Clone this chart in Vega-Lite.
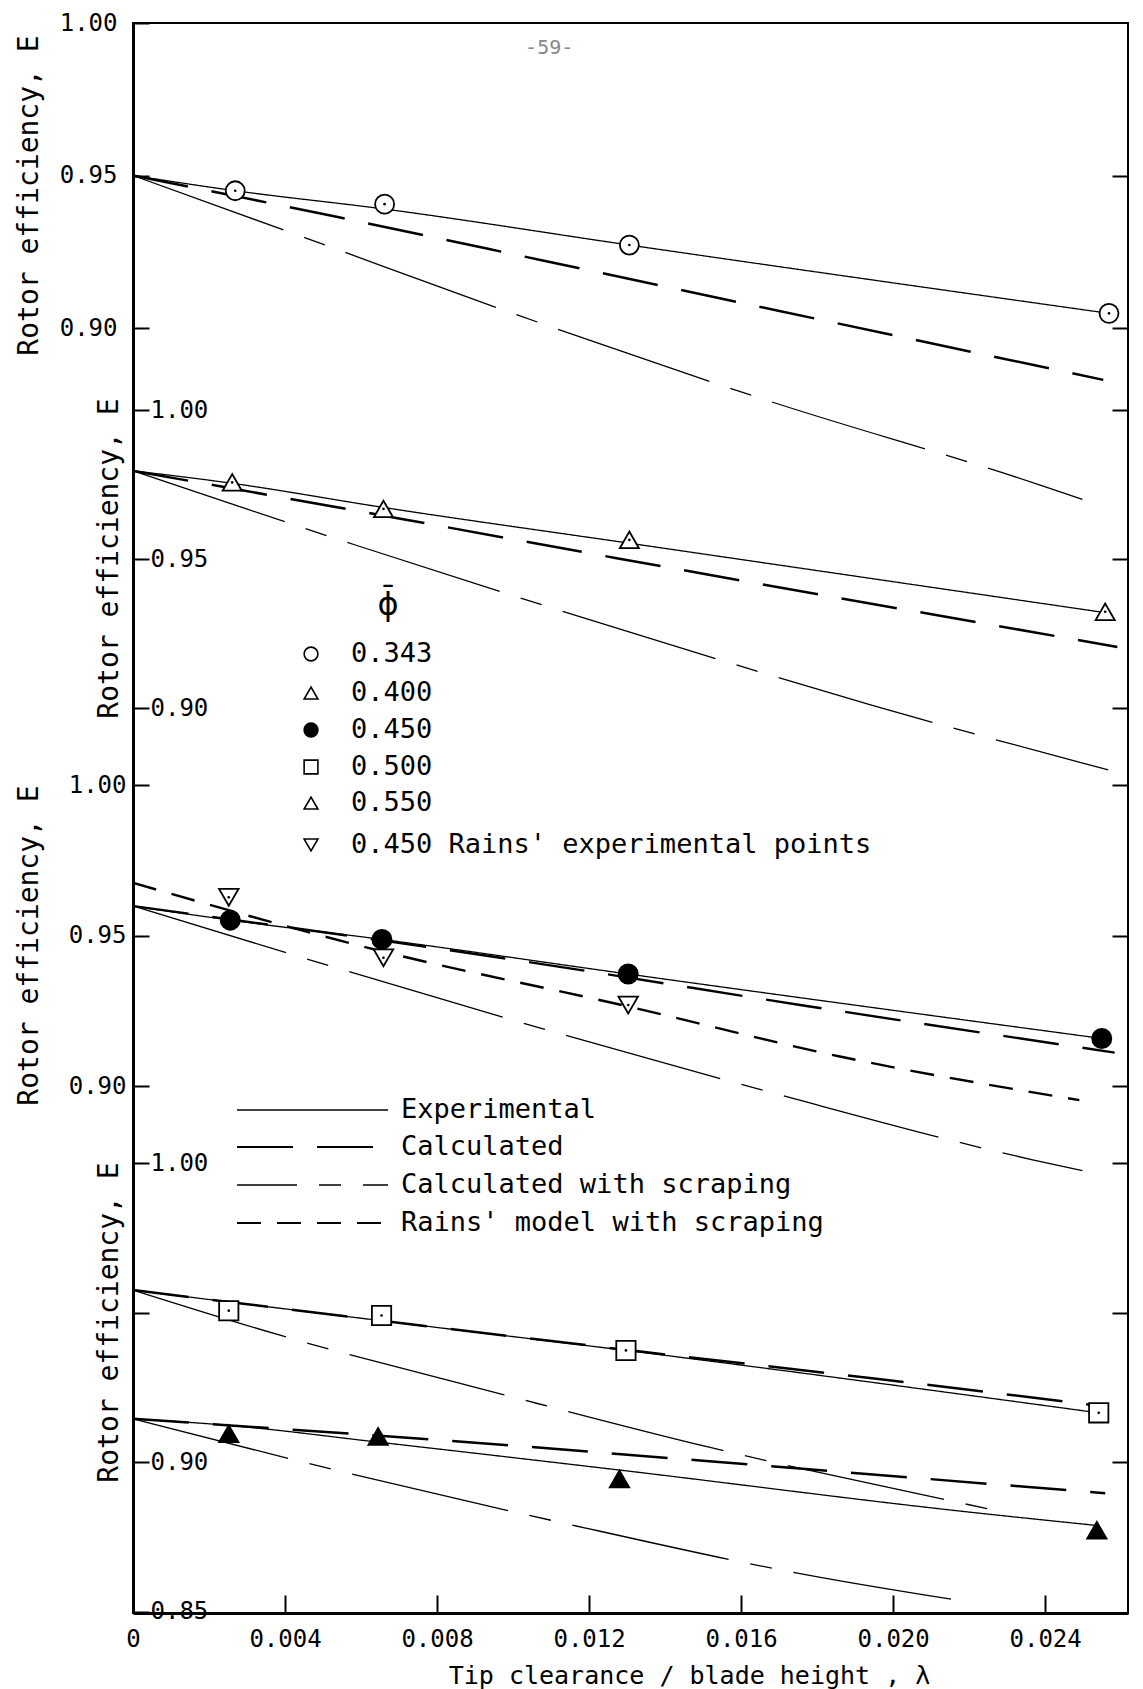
{
  "$schema": "https://vega.github.io/schema/vega-lite/v6.json",
  "width": 995,
  "height": 1590,
  "autosize": {"type": "none"},
  "padding": {"left": 133, "top": 23, "right": 15, "bottom": 76},
  "background": "white",
  "config": {
    "view": {"stroke": "black", "strokeWidth": 2},
    "font": "DejaVu Sans Mono",
    "axis": {"labelFont": "DejaVu Sans Mono", "titleFont": "DejaVu Sans Mono", "labelColor": "black", "titleColor": "black", "tickColor": "black", "domainColor": "black", "grid": false, "titleFontWeight": "normal", "labelFontSize": 24, "titleFontSize": 28, "tickWidth": 2, "labelOverlap": false, "labelFlush": false}
  },
  "datasets": {
    "lines": [
      {"panel": 1, "series": "0.343", "style": "Experimental", "x": 0, "E": 0.95},
      {"panel": 1, "series": "0.343", "style": "Experimental", "x": 0.00269, "E": 0.945},
      {"panel": 1, "series": "0.343", "style": "Experimental", "x": 0.00662, "E": 0.939},
      {"panel": 1, "series": "0.343", "style": "Experimental", "x": 0.01306, "E": 0.9272},
      {"panel": 1, "series": "0.343", "style": "Experimental", "x": 0.02568, "E": 0.9048},
      {"panel": 1, "series": "0.343", "style": "Calculated", "x": 0, "E": 0.95},
      {"panel": 1, "series": "0.343", "style": "Calculated", "x": 0.00526, "E": 0.9367},
      {"panel": 1, "series": "0.343", "style": "Calculated", "x": 0.01072, "E": 0.9223},
      {"panel": 1, "series": "0.343", "style": "Calculated", "x": 0.01704, "E": 0.9055},
      {"panel": 1, "series": "0.343", "style": "Calculated", "x": 0.02553, "E": 0.883},
      {"panel": 1, "series": "0.343", "style": "Calculated with scraping", "x": 0, "E": 0.95},
      {"panel": 1, "series": "0.343", "style": "Calculated with scraping", "x": 0.00457, "E": 0.9294},
      {"panel": 1, "series": "0.343", "style": "Calculated with scraping", "x": 0.01004, "E": 0.9046},
      {"panel": 1, "series": "0.343", "style": "Calculated with scraping", "x": 0.0167, "E": 0.8762},
      {"panel": 1, "series": "0.343", "style": "Calculated with scraping", "x": 0.02387, "E": 0.8485},
      {"panel": 1, "series": "0.343", "style": "Calculated with scraping", "x": 0.02498, "E": 0.8438},

      {"panel": 2, "series": "0.400", "style": "Experimental", "x": 0, "E": 0.9796},
      {"panel": 2, "series": "0.400", "style": "Experimental", "x": 0.00261, "E": 0.9754},
      {"panel": 2, "series": "0.400", "style": "Experimental", "x": 0.00659, "E": 0.9673},
      {"panel": 2, "series": "0.400", "style": "Experimental", "x": 0.01306, "E": 0.9553},
      {"panel": 2, "series": "0.400", "style": "Experimental", "x": 0.02558, "E": 0.932},
      {"panel": 2, "series": "0.400", "style": "Calculated", "x": 0, "E": 0.9796},
      {"panel": 2, "series": "0.400", "style": "Calculated", "x": 0.00696, "E": 0.9637},
      {"panel": 2, "series": "0.400", "style": "Calculated", "x": 0.01276, "E": 0.9502},
      {"panel": 2, "series": "0.400", "style": "Calculated", "x": 0.0259, "E": 0.9205},
      {"panel": 2, "series": "0.400", "style": "Calculated with scraping", "x": 0, "E": 0.9796},
      {"panel": 2, "series": "0.400", "style": "Calculated with scraping", "x": 0.00585, "E": 0.9547},
      {"panel": 2, "series": "0.400", "style": "Calculated with scraping", "x": 0.01303, "E": 0.9256},
      {"panel": 2, "series": "0.400", "style": "Calculated with scraping", "x": 0.01943, "E": 0.901},
      {"panel": 2, "series": "0.400", "style": "Calculated with scraping", "x": 0.02566, "E": 0.8792},

      {"panel": 3, "series": "0.450", "style": "Experimental", "x": 0, "E": 0.9598},
      {"panel": 3, "series": "0.450", "style": "Experimental", "x": 0.00256, "E": 0.9551},
      {"panel": 3, "series": "0.450", "style": "Experimental", "x": 0.00655, "E": 0.9487},
      {"panel": 3, "series": "0.450", "style": "Experimental", "x": 0.01303, "E": 0.9372},
      {"panel": 3, "series": "0.450", "style": "Experimental", "x": 0.02549, "E": 0.9158},
      {"panel": 3, "series": "0.450", "style": "Calculated", "x": 0, "E": 0.9598},
      {"panel": 3, "series": "0.450", "style": "Calculated", "x": 0.01004, "E": 0.9419},
      {"panel": 3, "series": "0.450", "style": "Calculated", "x": 0.01772, "E": 0.9266},
      {"panel": 3, "series": "0.450", "style": "Calculated", "x": 0.02583, "E": 0.9111},
      {"panel": 3, "series": "0.450", "style": "Rains' model with scraping", "x": 0, "E": 0.9675},
      {"panel": 3, "series": "0.450", "style": "Rains' model with scraping", "x": 0.0066, "E": 0.9446},
      {"panel": 3, "series": "0.450", "style": "Rains' model with scraping", "x": 0.013, "E": 0.9265},
      {"panel": 3, "series": "0.450", "style": "Rains' model with scraping", "x": 0.0186, "E": 0.9098},
      {"panel": 3, "series": "0.450", "style": "Rains' model with scraping", "x": 0.0249, "E": 0.8953},
      {"panel": 3, "series": "0.450", "style": "Calculated with scraping", "x": 0, "E": 0.9598},
      {"panel": 3, "series": "0.450", "style": "Calculated with scraping", "x": 0.00526, "E": 0.9396},
      {"panel": 3, "series": "0.450", "style": "Calculated with scraping", "x": 0.01106, "E": 0.918},
      {"panel": 3, "series": "0.450", "style": "Calculated with scraping", "x": 0.01704, "E": 0.897},
      {"panel": 3, "series": "0.450", "style": "Calculated with scraping", "x": 0.0237, "E": 0.8754},
      {"panel": 3, "series": "0.450", "style": "Calculated with scraping", "x": 0.02498, "E": 0.8719},

      {"panel": 4, "series": "0.500", "style": "Experimental", "x": 0, "E": 0.9576},
      {"panel": 4, "series": "0.500", "style": "Experimental", "x": 0.0065, "E": 0.9474},
      {"panel": 4, "series": "0.500", "style": "Experimental", "x": 0.01297, "E": 0.9374},
      {"panel": 4, "series": "0.500", "style": "Experimental", "x": 0.02541, "E": 0.9165},
      {"panel": 4, "series": "0.500", "style": "Calculated", "x": 0, "E": 0.9576},
      {"panel": 4, "series": "0.500", "style": "Calculated", "x": 0.0065, "E": 0.9474},
      {"panel": 4, "series": "0.500", "style": "Calculated", "x": 0.01297, "E": 0.9376},
      {"panel": 4, "series": "0.500", "style": "Calculated", "x": 0.0195, "E": 0.928},
      {"panel": 4, "series": "0.500", "style": "Calculated", "x": 0.0256, "E": 0.9186},
      {"panel": 4, "series": "0.500", "style": "Calculated with scraping", "x": 0, "E": 0.9576},
      {"panel": 4, "series": "0.500", "style": "Calculated with scraping", "x": 0.00389, "E": 0.9424},
      {"panel": 4, "series": "0.500", "style": "Calculated with scraping", "x": 0.00969, "E": 0.9228},
      {"panel": 4, "series": "0.500", "style": "Calculated with scraping", "x": 0.01516, "E": 0.905},
      {"panel": 4, "series": "0.500", "style": "Calculated with scraping", "x": 0.0225, "E": 0.8844},
      {"panel": 4, "series": "0.550", "style": "Experimental", "x": 0, "E": 0.9145},
      {"panel": 4, "series": "0.550", "style": "Experimental", "x": 0.00252, "E": 0.9123},
      {"panel": 4, "series": "0.550", "style": "Experimental", "x": 0.00645, "E": 0.9067},
      {"panel": 4, "series": "0.550", "style": "Experimental", "x": 0.01277, "E": 0.8974},
      {"panel": 4, "series": "0.550", "style": "Experimental", "x": 0.02199, "E": 0.8833},
      {"panel": 4, "series": "0.550", "style": "Experimental", "x": 0.02536, "E": 0.8788},
      {"panel": 4, "series": "0.550", "style": "Calculated", "x": 0, "E": 0.9145},
      {"panel": 4, "series": "0.550", "style": "Calculated", "x": 0.00961, "E": 0.9059},
      {"panel": 4, "series": "0.550", "style": "Calculated", "x": 0.01729, "E": 0.8981},
      {"panel": 4, "series": "0.550", "style": "Calculated", "x": 0.02558, "E": 0.8896},
      {"panel": 4, "series": "0.550", "style": "Calculated with scraping", "x": 0, "E": 0.9145},
      {"panel": 4, "series": "0.550", "style": "Calculated with scraping", "x": 0.00483, "E": 0.8989},
      {"panel": 4, "series": "0.550", "style": "Calculated with scraping", "x": 0.0114, "E": 0.8794},
      {"panel": 4, "series": "0.550", "style": "Calculated with scraping", "x": 0.0178, "E": 0.8621},
      {"panel": 4, "series": "0.550", "style": "Calculated with scraping", "x": 0.02199, "E": 0.8532}
    ],
    "points": [
      {"panel": 1, "marker": "open circle", "x": 0.00269, "E": 0.945},
      {"panel": 1, "marker": "open circle", "x": 0.00662, "E": 0.9406},
      {"panel": 1, "marker": "open circle", "x": 0.01306, "E": 0.9272},
      {"panel": 1, "marker": "open circle", "x": 0.02568, "E": 0.9048},
      {"panel": 2, "marker": "open triangle", "x": 0.00261, "E": 0.9757},
      {"panel": 2, "marker": "open triangle", "x": 0.00659, "E": 0.9668},
      {"panel": 2, "marker": "open triangle", "x": 0.01306, "E": 0.9564},
      {"panel": 2, "marker": "open triangle", "x": 0.02558, "E": 0.9323},
      {"panel": 3, "marker": "filled circle", "x": 0.00256, "E": 0.9551},
      {"panel": 3, "marker": "filled circle", "x": 0.00655, "E": 0.9487},
      {"panel": 3, "marker": "filled circle", "x": 0.01303, "E": 0.9372},
      {"panel": 3, "marker": "filled circle", "x": 0.02549, "E": 0.9158},
      {"panel": 3, "marker": "open inverted triangle", "x": 0.00252, "E": 0.9627},
      {"panel": 3, "marker": "open inverted triangle", "x": 0.00659, "E": 0.9426},
      {"panel": 3, "marker": "open inverted triangle", "x": 0.01303, "E": 0.9269},
      {"panel": 4, "marker": "open square", "x": 0.00252, "E": 0.9507},
      {"panel": 4, "marker": "open square", "x": 0.00654, "E": 0.9491},
      {"panel": 4, "marker": "open square", "x": 0.01297, "E": 0.9374},
      {"panel": 4, "marker": "open square", "x": 0.02541, "E": 0.9165},
      {"panel": 4, "marker": "filled triangle", "x": 0.00252, "E": 0.9095},
      {"panel": 4, "marker": "filled triangle", "x": 0.00645, "E": 0.9086},
      {"panel": 4, "marker": "filled triangle", "x": 0.0128, "E": 0.8944},
      {"panel": 4, "marker": "filled triangle", "x": 0.02536, "E": 0.8772}
    ],
    "phiLegend": [
      {"marker": "open circle", "label": "0.343", "x": 0.004684, "E": 0.91812},
      {"marker": "open triangle", "label": "0.400", "x": 0.004684, "E": 0.90503},
      {"marker": "filled circle", "label": "0.450", "x": 0.004684, "E": 0.89262},
      {"marker": "open square", "label": "0.500", "x": 0.004684, "E": 0.8802},
      {"marker": "open triangle", "label": "0.550", "x": 0.004684, "E": 0.86812},
      {"marker": "open inverted triangle", "label": "0.450 Rains' experimental points", "x": 0.004684, "E": 0.85403}
    ],
    "styleLegend": [
      {"style": "Experimental", "x": 0.002737, "x2": 0.006711, "E": 0.89203},
      {"style": "Calculated", "x": 0.002737, "x2": 0.006711, "E": 0.87973},
      {"style": "Calculated with scraping", "x": 0.002737, "x2": 0.006711, "E": 0.86711},
      {"style": "Rains' model with scraping", "x": 0.002737, "x2": 0.006711, "E": 0.85449}
    ],
    "notes": [
      {"panel": 1, "label": "-59-", "x": 0.01095, "E": 0.9918},
      {"panel": 2, "label": "\u03d5\u0304", "x": 0.00671, "E": 0.93456}
    ]
  },
  "layer": [
    {
      "layer": [
        {
          "data": {"name": "lines"},
          "transform": [{"filter": "datum.panel == 1 && (datum.style == 'Experimental' || datum.style == 'Calculated with scraping')"}],
          "mark": {"type": "line", "interpolate": "monotone", "color": "black", "strokeWidth": 1.3},
          "encoding": {
            "x": {"field": "x", "type": "quantitative", "scale": {"domain": [0, 0.02618], "nice": false, "zero": false},
              "axis": {"orient": "bottom", "title": "Tip clearance / blade height , \u03bb", "values": [0, 0.004, 0.008, 0.012, 0.016, 0.02, 0.024], "labelExpr": "datum.value == 0 ? '0' : format(datum.value, '.3f')", "tickSize": -18, "tickWidth": 2, "labelPadding": 32, "labelBaseline": "top", "labelFontSize": 24, "domain": true, "domainWidth": 3, "titleFontSize": 25, "titleX": 556, "titleY": 70, "titleBaseline": "alphabetic"}},
            "y": {"field": "E", "type": "quantitative", "scale": {"domain": [0.47869, 1.0], "nice": false, "zero": false},
              "axis": {"orient": "left", "title": "Rotor efficiency, E", "values": [0.9, 0.95, 1.0], "format": ".2f", "tickSize": -16, "labelPadding": 32, "labelAlign": "right", "labelBaseline": "middle", "titleAngle": 270, "titleX": -96, "titleY": 172, "titleBaseline": "alphabetic", "titleAlign": "center", "domain": true, "domainWidth": 3}},
            "detail": {"field": "series"},
            "strokeDash": {"field": "style", "type": "nominal", "scale": {"domain": ["Experimental", "Calculated", "Calculated with scraping", "Rains' model with scraping"], "range": [[1, 0], [56, 24], [160, 22, 22, 22], [24, 16]]}, "legend": null}
          }
        },
        {
          "data": {"name": "lines"},
          "transform": [{"filter": "datum.panel == 1 && (datum.style == 'Calculated' || datum.style == \"Rains' model with scraping\")"}],
          "mark": {"type": "line", "interpolate": "monotone", "color": "black", "strokeWidth": 2.5},
          "encoding": {
            "x": {"field": "x", "type": "quantitative", "scale": {"domain": [0, 0.02618], "nice": false, "zero": false}},
            "y": {"field": "E", "type": "quantitative", "scale": {"domain": [0.47869, 1.0], "nice": false, "zero": false}},
            "detail": {"field": "series"},
            "strokeDash": {"field": "style", "type": "nominal", "legend": null}
          }
        },
        {
          "data": {"name": "points"},
          "transform": [{"filter": "datum.panel == 1"}],
          "mark": {"type": "point", "stroke": "black", "strokeWidth": 1.8, "opacity": 1, "fillOpacity": 1},
          "encoding": {
            "x": {"field": "x", "type": "quantitative", "scale": {"domain": [0, 0.02618], "nice": false, "zero": false}},
            "y": {"field": "E", "type": "quantitative", "scale": {"domain": [0.47869, 1.0], "nice": false, "zero": false}},
            "shape": {"field": "marker", "type": "nominal", "scale": {"domain": ["open circle", "open triangle", "filled circle", "open square", "filled triangle", "open inverted triangle"], "range": ["circle", "triangle-up", "circle", "square", "triangle-up", "triangle-down"]}, "legend": null},
            "fill": {"field": "marker", "type": "nominal", "scale": {"domain": ["open circle", "open triangle", "filled circle", "open square", "filled triangle", "open inverted triangle"], "range": ["white", "white", "black", "white", "black", "white"]}, "legend": null},
            "size": {"field": "marker", "type": "nominal", "scale": {"domain": ["open circle", "open triangle", "filled circle", "open square", "filled triangle", "open inverted triangle"], "range": [361, 380, 256, 256, 440, 380]}, "legend": null}
          }
        },
        {
          "data": {"name": "notes"},
          "transform": [{"filter": "datum.panel == 1"}],
          "mark": {"type": "text", "fontSize": 20, "color": "#888888", "align": "center", "baseline": "middle", "font": "DejaVu Sans Mono"},
          "encoding": {
            "x": {"field": "x", "type": "quantitative", "scale": {"domain": [0, 0.02618], "nice": false, "zero": false}},
            "y": {"field": "E", "type": "quantitative", "scale": {"domain": [0.47869, 1.0], "nice": false, "zero": false}},
            "text": {"field": "label"}
          }
        }
      ]
    },
    {
      "layer": [
        {
          "data": {"name": "lines"},
          "transform": [{"filter": "datum.panel == 2 && (datum.style == 'Experimental' || datum.style == 'Calculated with scraping')"}],
          "mark": {"type": "line", "interpolate": "monotone", "color": "black", "strokeWidth": 1.3},
          "encoding": {
            "x": {"field": "x", "type": "quantitative", "scale": {"domain": [0, 0.02618], "nice": false, "zero": false}},
            "y": {"field": "E", "type": "quantitative", "scale": {"domain": [0.59631, 1.12987], "nice": false, "zero": false},
              "axis": {"orient": "left", "title": "Rotor efficiency, E", "values": [0.9, 0.95, 1.0], "format": ".2f", "tickSize": -16, "labelPadding": -1, "labelAlign": "left", "labelBaseline": "middle", "titleAngle": 270, "titleX": -16, "titleY": 535, "titleBaseline": "alphabetic", "titleAlign": "center", "domain": false}},
            "detail": {"field": "series"},
            "strokeDash": {"field": "style", "type": "nominal", "legend": null}
          }
        },
        {
          "data": {"name": "lines"},
          "transform": [{"filter": "datum.panel == 2 && (datum.style == 'Calculated' || datum.style == \"Rains' model with scraping\")"}],
          "mark": {"type": "line", "interpolate": "monotone", "color": "black", "strokeWidth": 2.5},
          "encoding": {
            "x": {"field": "x", "type": "quantitative", "scale": {"domain": [0, 0.02618], "nice": false, "zero": false}},
            "y": {"field": "E", "type": "quantitative", "scale": {"domain": [0.59631, 1.12987], "nice": false, "zero": false}},
            "detail": {"field": "series"},
            "strokeDash": {"field": "style", "type": "nominal", "legend": null}
          }
        },
        {
          "data": {"name": "points"},
          "transform": [{"filter": "datum.panel == 2"}],
          "mark": {"type": "point", "stroke": "black", "strokeWidth": 1.8, "opacity": 1, "fillOpacity": 1},
          "encoding": {
            "x": {"field": "x", "type": "quantitative", "scale": {"domain": [0, 0.02618], "nice": false, "zero": false}},
            "y": {"field": "E", "type": "quantitative", "scale": {"domain": [0.59631, 1.12987], "nice": false, "zero": false}},
            "shape": {"field": "marker", "type": "nominal", "legend": null},
            "fill": {"field": "marker", "type": "nominal", "legend": null},
            "size": {"field": "marker", "type": "nominal", "legend": null}
          }
        },
        {
          "data": {"name": "phiLegend"},
          "mark": {"type": "point", "stroke": "black", "strokeWidth": 1.6, "opacity": 1, "fillOpacity": 1, "size": 190},
          "encoding": {
            "x": {"field": "x", "type": "quantitative", "scale": {"domain": [0, 0.02618], "nice": false, "zero": false}},
            "y": {"field": "E", "type": "quantitative", "scale": {"domain": [0.59631, 1.12987], "nice": false, "zero": false}},
            "shape": {"field": "marker", "type": "nominal", "legend": null},
            "fill": {"field": "marker", "type": "nominal", "legend": null}
          }
        },
        {
          "data": {"name": "phiLegend"},
          "mark": {"type": "text", "fontSize": 27, "color": "black", "align": "left", "baseline": "middle", "dx": 40, "font": "DejaVu Sans Mono"},
          "encoding": {
            "x": {"field": "x", "type": "quantitative", "scale": {"domain": [0, 0.02618], "nice": false, "zero": false}},
            "y": {"field": "E", "type": "quantitative", "scale": {"domain": [0.59631, 1.12987], "nice": false, "zero": false}},
            "text": {"field": "label"}
          }
        },
        {
          "data": {"name": "notes"},
          "transform": [{"filter": "datum.panel == 2"}],
          "mark": {"type": "text", "fontSize": 32, "color": "black", "align": "center", "baseline": "middle", "font": "DejaVu Sans"},
          "encoding": {
            "x": {"field": "x", "type": "quantitative", "scale": {"domain": [0, 0.02618], "nice": false, "zero": false}},
            "y": {"field": "E", "type": "quantitative", "scale": {"domain": [0.59631, 1.12987], "nice": false, "zero": false}},
            "text": {"field": "label"}
          }
        }
      ]
    },
    {
      "layer": [
        {
          "data": {"name": "lines"},
          "transform": [{"filter": "datum.panel == 3 && (datum.style == 'Experimental' || datum.style == 'Calculated with scraping')"}],
          "mark": {"type": "line", "interpolate": "monotone", "color": "black", "strokeWidth": 1.3},
          "encoding": {
            "x": {"field": "x", "type": "quantitative", "scale": {"domain": [0, 0.02618], "nice": false, "zero": false}},
            "y": {"field": "E", "type": "quantitative", "scale": {"domain": [0.72492, 1.25316], "nice": false, "zero": false},
              "axis": {"orient": "left", "title": "Rotor efficiency, E", "values": [0.9, 0.95, 1.0], "format": ".2f", "tickSize": -16, "labelPadding": 23, "labelAlign": "right", "labelBaseline": "middle", "titleAngle": 270, "titleX": -96, "titleY": 922, "titleBaseline": "alphabetic", "titleAlign": "center", "domain": false}},
            "detail": {"field": "series"},
            "strokeDash": {"field": "style", "type": "nominal", "legend": null}
          }
        },
        {
          "data": {"name": "lines"},
          "transform": [{"filter": "datum.panel == 3 && (datum.style == 'Calculated' || datum.style == \"Rains' model with scraping\")"}],
          "mark": {"type": "line", "interpolate": "monotone", "color": "black", "strokeWidth": 2.4},
          "encoding": {
            "x": {"field": "x", "type": "quantitative", "scale": {"domain": [0, 0.02618], "nice": false, "zero": false}},
            "y": {"field": "E", "type": "quantitative", "scale": {"domain": [0.72492, 1.25316], "nice": false, "zero": false}},
            "detail": {"field": "series"},
            "strokeDash": {"field": "style", "type": "nominal", "legend": null}
          }
        },
        {
          "data": {"name": "points"},
          "transform": [{"filter": "datum.panel == 3"}],
          "mark": {"type": "point", "stroke": "black", "strokeWidth": 1.8, "opacity": 1, "fillOpacity": 1},
          "encoding": {
            "x": {"field": "x", "type": "quantitative", "scale": {"domain": [0, 0.02618], "nice": false, "zero": false}},
            "y": {"field": "E", "type": "quantitative", "scale": {"domain": [0.72492, 1.25316], "nice": false, "zero": false}},
            "shape": {"field": "marker", "type": "nominal", "legend": null},
            "fill": {"field": "marker", "type": "nominal", "legend": null},
            "size": {"field": "marker", "type": "nominal", "legend": null}
          }
        },
        {
          "data": {"name": "styleLegend"},
          "transform": [{"filter": "datum.style == 'Experimental' || datum.style == 'Calculated with scraping'"}],
          "mark": {"type": "rule", "color": "black", "strokeWidth": 1.3, "strokeDashOffset": 100},
          "encoding": {
            "x": {"field": "x", "type": "quantitative", "scale": {"domain": [0, 0.02618], "nice": false, "zero": false}},
            "x2": {"field": "x2"},
            "y": {"field": "E", "type": "quantitative", "scale": {"domain": [0.72492, 1.25316], "nice": false, "zero": false}},
            "strokeDash": {"field": "style", "type": "nominal", "legend": null}
          }
        },
        {
          "data": {"name": "styleLegend"},
          "transform": [{"filter": "datum.style == 'Calculated' || datum.style == \"Rains' model with scraping\""}],
          "mark": {"type": "rule", "color": "black", "strokeWidth": 2},
          "encoding": {
            "x": {"field": "x", "type": "quantitative", "scale": {"domain": [0, 0.02618], "nice": false, "zero": false}},
            "x2": {"field": "x2"},
            "y": {"field": "E", "type": "quantitative", "scale": {"domain": [0.72492, 1.25316], "nice": false, "zero": false}},
            "strokeDash": {"field": "style", "type": "nominal", "legend": null}
          }
        },
        {
          "data": {"name": "styleLegend"},
          "mark": {"type": "text", "fontSize": 27, "color": "black", "align": "left", "baseline": "middle", "dx": 13, "font": "DejaVu Sans Mono"},
          "encoding": {
            "x": {"field": "x2", "type": "quantitative", "scale": {"domain": [0, 0.02618], "nice": false, "zero": false}},
            "y": {"field": "E", "type": "quantitative", "scale": {"domain": [0.72492, 1.25316], "nice": false, "zero": false}},
            "text": {"field": "style"}
          }
        }
      ]
    },
    {
      "layer": [
        {
          "data": {"name": "lines"},
          "transform": [{"filter": "datum.panel == 4 && (datum.style == 'Experimental' || datum.style == 'Calculated with scraping')"}],
          "mark": {"type": "line", "interpolate": "monotone", "color": "black", "strokeWidth": 1.3},
          "encoding": {
            "x": {"field": "x", "type": "quantitative", "scale": {"domain": [0, 0.02618], "nice": false, "zero": false}},
            "y": {"field": "E", "type": "quantitative", "scale": {"domain": [0.8495, 1.38177], "nice": false, "zero": false},
              "axis": {"orient": "left", "title": "Rotor efficiency, E", "values": [0.85, 0.9, 0.95, 1.0], "labelExpr": "datum.value == 0.95 ? '' : format(datum.value, '.2f')", "tickSize": -16, "labelPadding": -1, "labelAlign": "left", "labelBaseline": "middle", "titleAngle": 270, "titleX": -16, "titleY": 1299, "titleBaseline": "alphabetic", "titleAlign": "center", "domain": false}},
            "detail": {"field": "series"},
            "strokeDash": {"field": "style", "type": "nominal", "legend": null}
          }
        },
        {
          "data": {"name": "lines"},
          "transform": [{"filter": "datum.panel == 4 && (datum.style == 'Calculated' || datum.style == \"Rains' model with scraping\")"}],
          "mark": {"type": "line", "interpolate": "monotone", "color": "black", "strokeWidth": 2.5},
          "encoding": {
            "x": {"field": "x", "type": "quantitative", "scale": {"domain": [0, 0.02618], "nice": false, "zero": false}},
            "y": {"field": "E", "type": "quantitative", "scale": {"domain": [0.8495, 1.38177], "nice": false, "zero": false}},
            "detail": {"field": "series"},
            "strokeDash": {"field": "style", "type": "nominal", "legend": null}
          }
        },
        {
          "data": {"name": "points"},
          "transform": [{"filter": "datum.panel == 4"}],
          "mark": {"type": "point", "stroke": "black", "strokeWidth": 1.8, "opacity": 1, "fillOpacity": 1},
          "encoding": {
            "x": {"field": "x", "type": "quantitative", "scale": {"domain": [0, 0.02618], "nice": false, "zero": false}},
            "y": {"field": "E", "type": "quantitative", "scale": {"domain": [0.8495, 1.38177], "nice": false, "zero": false}},
            "shape": {"field": "marker", "type": "nominal", "legend": null},
            "fill": {"field": "marker", "type": "nominal", "legend": null},
            "size": {"field": "marker", "type": "nominal", "legend": null}
          }
        }
      ]
    },
    {
      "data": {"name": "points"},
      "transform": [{"filter": "datum.panel == 1"}],
      "mark": {"type": "point", "shape": "circle", "filled": true, "color": "black", "size": 7, "opacity": 1},
      "encoding": {
        "x": {"field": "x", "type": "quantitative", "scale": {"domain": [0, 0.02618], "nice": false, "zero": false}},
        "y": {"field": "E", "type": "quantitative", "scale": {"domain": [0.47869, 1.0], "nice": false, "zero": false},
          "axis": {"orient": "right", "title": null, "values": [0.9, 0.95], "labels": false, "tickSize": -16, "domain": false}}
      }
    },
    {
      "data": {"name": "points"},
      "transform": [{"filter": "datum.panel == 2"}],
      "mark": {"type": "point", "shape": "circle", "filled": true, "color": "black", "size": 7, "opacity": 1},
      "encoding": {
        "x": {"field": "x", "type": "quantitative", "scale": {"domain": [0, 0.02618], "nice": false, "zero": false}},
        "y": {"field": "E", "type": "quantitative", "scale": {"domain": [0.59631, 1.12987], "nice": false, "zero": false},
          "axis": {"orient": "right", "title": null, "values": [0.9, 0.95, 1.0], "labels": false, "tickSize": -16, "domain": false}}
      }
    },
    {
      "data": {"name": "points"},
      "transform": [{"filter": "datum.panel == 3 && datum.marker == 'open inverted triangle'"}],
      "mark": {"type": "point", "shape": "circle", "filled": true, "color": "black", "size": 7, "opacity": 1},
      "encoding": {
        "x": {"field": "x", "type": "quantitative", "scale": {"domain": [0, 0.02618], "nice": false, "zero": false}},
        "y": {"field": "E", "type": "quantitative", "scale": {"domain": [0.72492, 1.25316], "nice": false, "zero": false},
          "axis": {"orient": "right", "title": null, "values": [0.9, 0.95, 1.0], "labels": false, "tickSize": -16, "domain": false}}
      }
    },
    {
      "data": {"name": "points"},
      "transform": [{"filter": "datum.panel == 4 && datum.marker == 'open square'"}],
      "mark": {"type": "point", "shape": "circle", "filled": true, "color": "black", "size": 7, "opacity": 1},
      "encoding": {
        "x": {"field": "x", "type": "quantitative", "scale": {"domain": [0, 0.02618], "nice": false, "zero": false}},
        "y": {"field": "E", "type": "quantitative", "scale": {"domain": [0.8495, 1.38177], "nice": false, "zero": false},
          "axis": {"orient": "right", "title": null, "values": [0.9, 0.95, 1.0], "labels": false, "tickSize": -16, "domain": false}}
      }
    }
  ],
  "resolve": {"scale": {"y": "independent"}, "axis": {"y": "independent"}}
}
